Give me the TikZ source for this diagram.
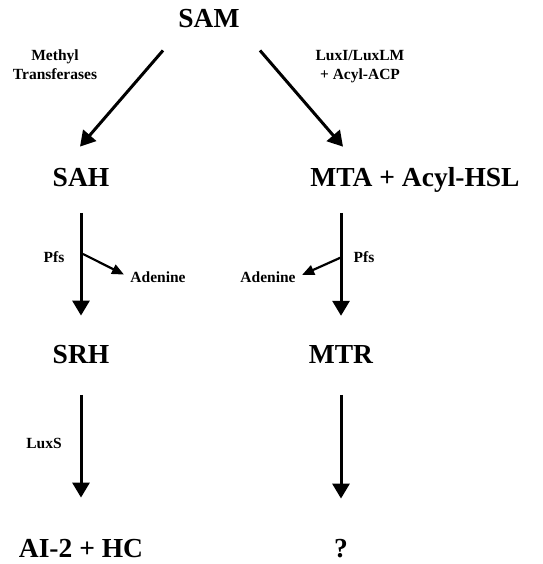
\documentclass[tikz,border=0pt]{standalone}
\usepackage{fontspec}
\setmainfont{Liberation Serif}
\usepackage{tikz}
\usetikzlibrary{arrows.meta, calc}

\begin{document}
\begin{tikzpicture}[x=1pt, y=1pt,
	met/.style={inner sep=0pt, anchor=base, font=\fontsize{27.5}{30}\selectfont\bfseries},
	enz/.style={inner sep=0pt, anchor=base, font=\fontsize{15.5}{19}\selectfont\bfseries, align=center},
	arr/.style={line width=3pt, -{Triangle[length=15pt, width=17pt]}},
	side/.style={line width=2.2pt, -{Triangle[length=12pt, width=10pt]}}]

	\useasboundingbox (0,0) rectangle (542,564);

	% metabolites
	\node[met] (sam) at (209,536) {SAM};
	\node[met] (sah) at (81,377) {SAH};
	\node[met] (mta) at (415,377) {MTA + Acyl-HSL};
	\node[met] (srh) at (81,200) {SRH};
	\node[met] (mtr) at (341,200) {MTR};
	\node[met] (ai) at (81,6) {AI-2 + HC};
	\node[met] (unk) at (341,6) {?};

	% enzymes and side products
	\node[enz] (mt) at (55,484) {Methyl\\Transferases};
	\node[enz] (lux) at (360,484) {LuxI/LuxLM\\+ Acyl-ACP};
	\node[enz] (pfsL) at (54,301) {Pfs};
	\node[enz] (pfsR) at (364,301) {Pfs};
	\node[enz] (adeL) at (158,281) {Adenine};
	\node[enz] (adeR) at (268,281) {Adenine};
	\node[enz] (luxs) at (44,115) {LuxS};

	% branch points on the Pfs arrows
	\coordinate (brL) at (83,310);
	\coordinate (brR) at (342,307);

	\draw[arr] ($ (sam.south)+(-46,-22) $) -- ($ (sah.north)+(-1,22) $);
	\draw[arr] ($ (sam.south)+(51,-22) $) -- ($ (mta.north)+(-72,21) $);

	\draw[arr, shorten <=26pt, shorten >=30pt] (sah.base) -- (srh.north);
	\draw[arr, shorten <=26pt, shorten >=30pt] (mtr.north |- mta.base) -- (mtr.north);
	\draw[arr, shorten <=31pt, shorten >=42pt] (srh.base) -- (ai.north);
	\draw[arr, shorten <=31pt, shorten >=41pt] (mtr.base) -- (unk.north);

	\draw[side, shorten >=7pt] (brL) -- (adeL.west);
	\draw[side, shorten >=7pt] (brR) -- (adeR.east);

\end{tikzpicture}
\end{document}
